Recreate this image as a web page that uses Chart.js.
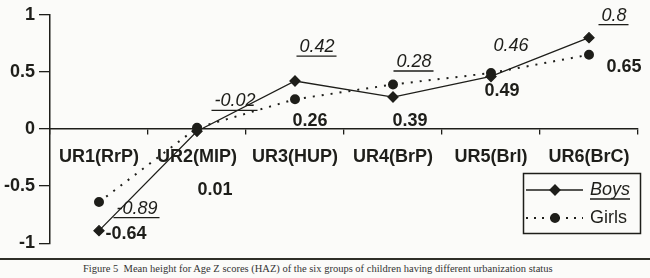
<!DOCTYPE html>
<html>
<head>
<meta charset="utf-8">
<script src="https://cdn.jsdelivr.net/npm/chart.js@4/dist/chart.umd.min.js"></script>
<style>
  body { margin: 0; background: #fbfbf9; }
  #wrap { position: relative; width: 650px; height: 258px; }
  .caption {
    width: 650px; height: 18px; border-top: 2px solid #2f2f28;
    font-family: "Liberation Serif", serif; font-size: 10.5px; color: #333;
    padding-left: 83px; box-sizing: border-box; line-height: 17px;
  }
</style>
</head>
<body>
<div id="wrap"><canvas id="myChart" width="650" height="258"></canvas></div>
<div class="caption">Figure 5&nbsp; Mean height for Age Z scores (HAZ) of the six groups of children having different urbanization status</div>
<script>
const groups = ['UR1(RrP)', 'UR2(MIP)', 'UR3(HUP)', 'UR4(BrP)', 'UR5(BrI)', 'UR6(BrC)'];
const boys = [-0.89, -0.02, 0.42, 0.28, 0.46, 0.8];
const girls = [-0.64, 0.01, 0.26, 0.39, 0.49, 0.65];

const ink = '#1e1e1a';
const font = 'Arial, "Liberation Sans", sans-serif';

// value labels, offset from each point
const valueLabels = {
    id: 'valueLabels',
    afterDatasetsDraw(chart, args, opts) {
        const ctx = chart.ctx;
        opts.sets.forEach((s, di) => {
            const meta = chart.getDatasetMeta(di);
            meta.data.forEach((pt, i) => {
                const v = chart.data.datasets[di].data[i];
                const txt = String(v);
                const x = pt.x + s.offsets[i][0];
                const y = pt.y + s.offsets[i][1];
                ctx.save();
                ctx.font = s.font;
                ctx.fillStyle = ink;
                ctx.textAlign = 'center';
                ctx.textBaseline = 'middle';
                ctx.fillText(txt, x, y);
                if (s.underline && s.underline[i]) {
                    const w = ctx.measureText(txt).width;
                    ctx.strokeStyle = ink;
                    ctx.lineWidth = 1.3;
                    ctx.beginPath();
                    ctx.moveTo(x - w / 2 - 3, y + 9);
                    ctx.lineTo(x + w / 2 + 2, y + 9);
                    ctx.stroke();
                }
                ctx.restore();
            });
        });
    }
};

// boxed legend in the lower right
const boxLegend = {
    id: 'boxLegend',
    afterDraw(chart) {
        const ctx = chart.ctx;
        ctx.save();
        ctx.strokeStyle = ink;
        ctx.lineWidth = 1.5;
        ctx.strokeRect(523.5, 173.5, 117, 60);
        const rows = [
            {y: 190, text: 'Boys', font: 'italic 18px ' + font, dash: [], style: 'rectRot', underline: true},
            {y: 218, text: 'Girls', font: '18px ' + font, dash: [2, 6], style: 'circle', underline: false}
        ];
        rows.forEach(r => {
            ctx.lineWidth = r.dash.length ? 2 : 1.3;
            ctx.setLineDash(r.dash);
            ctx.beginPath();
            ctx.moveTo(526, r.y);
            ctx.lineTo(583, r.y);
            ctx.stroke();
            ctx.setLineDash([]);
            ctx.fillStyle = ink;
            Chart.helpers.drawPoint(ctx, {pointStyle: r.style, radius: r.style === 'circle' ? 4 : 5, borderWidth: 1}, 555, r.y);
            ctx.fill();
            ctx.font = r.font;
            ctx.textAlign = 'left';
            ctx.textBaseline = 'middle';
            ctx.fillText(r.text, 590, r.y);
            if (r.underline) {
                const w = ctx.measureText(r.text).width;
                ctx.lineWidth = 1.3;
                ctx.beginPath();
                ctx.moveTo(590, r.y + 9);
                ctx.lineTo(590 + w, r.y + 9);
                ctx.stroke();
            }
        });
        ctx.restore();
    }
};

const config = {
    type: 'line',
    data: {
        labels: groups,
        datasets: [
            {
                label: 'Boys',
                data: boys,
                borderColor: ink,
                backgroundColor: ink,
                borderWidth: 1.3,
                pointStyle: 'rectRot',
                pointRadius: 5,
                tension: 0
            },
            {
                label: 'Girls',
                data: girls,
                borderColor: ink,
                backgroundColor: ink,
                borderWidth: 2,
                borderDash: [2, 7],
                pointStyle: 'circle',
                pointRadius: 4,
                tension: 0
            }
        ]
    },
    options: {
        responsive: false,
        animation: false,
        layout: {padding: {top: 11, right: 12, bottom: 10, left: 0}},
        plugins: {
            legend: {display: false},
            tooltip: {enabled: false},
            valueLabels: {
                sets: [
                    {
                        font: 'italic 18px ' + font,
                        offsets: [[38, -22], [38, -30], [22, -34], [21, -35], [20, -30], [25, -22]],
                        underline: [true, true, true, true, false, true]
                    },
                    {
                        font: 'bold 18px ' + font,
                        offsets: [[27, 32], [18, 62], [15, 22], [17, 37], [11, 18], [35, 12]]
                    }
                ]
            }
        },
        scales: {
            x: {
                position: {y: 0},
                offset: true,
                grid: {
                    offset: true,
                    drawOnChartArea: false,
                    drawTicks: true,
                    tickLength: 5,
                    color: ink,
                    lineWidth: 1.3
                },
                border: {color: ink, width: 1.5},
                ticks: {
                    color: ink,
                    padding: 12,
                    maxRotation: 0,
                    autoSkip: false,
                    font: {family: font, size: 18, weight: 'bold'}
                }
            },
            y: {
                min: -1,
                max: 1,
                afterFit: scale => { scale.width = 50; },
                ticks: {
                    stepSize: 0.5,
                    color: ink,
                    padding: 4,
                    callback: v => String(v),
                    font: {family: font, size: 18, weight: 'bold'}
                },
                grid: {
                    drawOnChartArea: false,
                    drawTicks: true,
                    tickLength: 11,
                    color: ink,
                    lineWidth: 1.3
                },
                border: {color: ink, width: 1.5}
            }
        }
    },
    plugins: [valueLabels, boxLegend]
};

new Chart(document.getElementById('myChart'), config);
</script>
</body>
</html>
